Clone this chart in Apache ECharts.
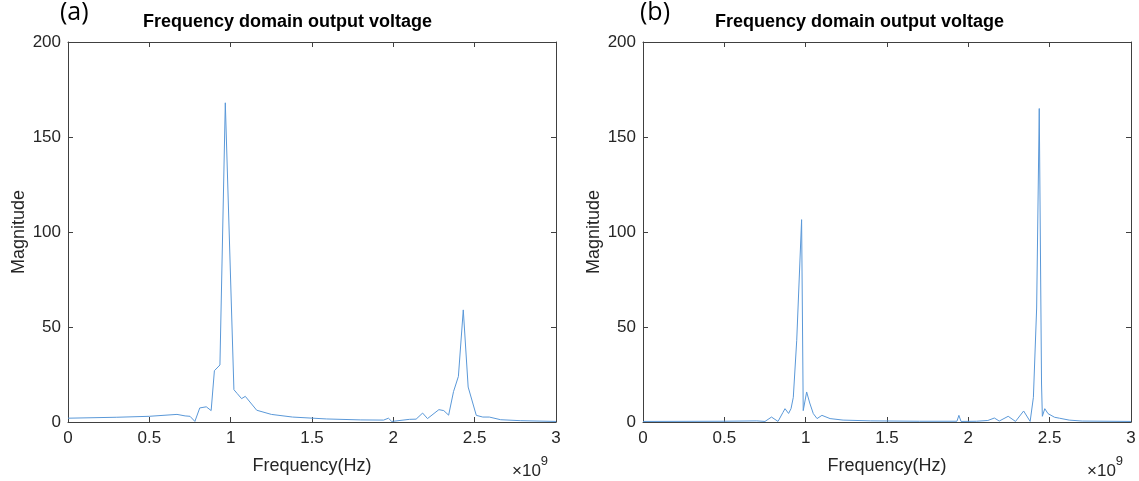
<!DOCTYPE html>
<html>
<head>
<meta charset="utf-8">
<script src="https://cdn.jsdelivr.net/npm/echarts@6/dist/echarts.min.js"></script>
<style>
  html, body { margin: 0; padding: 0; background: #fff; }
  #chart { width: 1139px; height: 481px; }
</style>
</head>
<body>
<div id="chart"></div>
<script>
// 频率单位 ×10^9 Hz
var freqA = [0, 0.3, 0.5, 0.67, 0.72, 0.75, 0.78, 0.81, 0.85, 0.88, 0.90, 0.934, 0.967, 1.02, 1.04, 1.067, 1.09, 1.10, 1.16, 1.25, 1.38, 1.59, 1.80, 1.94, 1.97, 1.99, 2.00, 2.10, 2.14, 2.18, 2.21, 2.28, 2.31, 2.34, 2.37, 2.40, 2.43, 2.46, 2.51, 2.55, 2.59, 2.66, 2.78, 3.0];
var magA  = [2.0, 2.5, 3.0, 4.0, 3.2, 3.0, 0.3, 7.4, 8.0, 6.0, 27, 30, 168, 17, 15, 12.3, 13.5, 13, 6.2, 4, 2.6, 1.6, 1.1, 1.0, 2.0, 0.3, 1.2, 1.4, 1.5, 4.7, 1.8, 6.5, 6, 3.6, 16, 24, 59, 18.4, 3.5, 2.6, 2.6, 1.2, 0.7, 0.3];

var freqB = [0, 0.5, 0.70, 0.75, 0.79, 0.83, 0.86, 0.873, 0.895, 0.91, 0.924, 0.945, 0.975, 0.985, 1.006, 1.025, 1.047, 1.07, 1.10, 1.15, 1.23, 1.4, 1.7, 1.93, 1.942, 1.955, 2.05, 2.12, 2.16, 2.19, 2.245, 2.29, 2.34, 2.38, 2.40, 2.42, 2.436, 2.45, 2.455, 2.47, 2.49, 2.53, 2.56, 2.62, 2.70, 3.0];
var magB  = [0.3, 0.4, 0.6, 0.3, 2.6, 0.3, 5, 7, 4.5, 7, 13, 43, 106.5, 6, 15.8, 10, 4.4, 1.8, 3.5, 1.8, 1, 0.6, 0.4, 0.4, 3.5, 0.3, 0.4, 0.8, 2.1, 0.5, 3, 0.3, 5.8, 0.3, 13, 60, 165, 20, 3, 7, 4.4, 2.5, 2, 1, 0.5, 0.3];

var xTicks = [0, 0.5, 1, 1.5, 2, 2.5, 3];
var yTicks = [0, 50, 100, 150, 200];

var chart = echarts.init(document.getElementById('chart'));

var axisColor = '#404040';
var labelStyle = { color: '#262626', fontSize: 17, fontFamily: 'Liberation Sans' };
var nameStyle = { color: '#262626', fontSize: 18, fontFamily: 'Liberation Sans' };

function pair(f, m) {
    var out = [];
    for (var i = 0; i < f.length; i++) {
        out.push([f[i], m[i]]);
    }
    return out;
}

function xAxisOf(gi, pos, showLabel) {
    return {
        type: 'value', gridIndex: gi, position: pos,
        min: xTicks[0], max: xTicks[xTicks.length - 1], interval: 0.5,
        axisLine: { show: true, onZero: false, lineStyle: { color: axisColor, width: 1 } },
        axisTick: { show: true, inside: true, length: 5, lineStyle: { color: axisColor } },
        axisLabel: { show: showLabel, margin: 8, textStyle: labelStyle },
        splitLine: { show: false },
        name: showLabel ? 'Frequency(Hz)' : '',
        nameLocation: 'middle', nameGap: 35,
        nameTextStyle: nameStyle
    };
}

function yAxisOf(gi, pos, showLabel) {
    return {
        type: 'value', gridIndex: gi, position: pos,
        min: yTicks[0], max: yTicks[yTicks.length - 1], interval: 50,
        axisLine: { show: true, onZero: false, lineStyle: { color: axisColor, width: 1 } },
        axisTick: { show: true, inside: true, length: 5, lineStyle: { color: axisColor } },
        axisLabel: { show: showLabel, margin: 7, textStyle: labelStyle },
        splitLine: { show: false },
        name: showLabel ? 'Magnitude' : '',
        nameLocation: 'middle', nameGap: 40, nameRotate: 90,
        nameTextStyle: nameStyle
    };
}

var titleStyle = { color: '#000', fontSize: 18, fontWeight: 'bold', fontFamily: 'Liberation Sans' };
var panelStyle = { color: '#000', fontSize: 25, fontWeight: 'normal', fontFamily: 'Open Sans' };

var expRich = {
    a: { fontSize: 17, fontFamily: 'Liberation Sans', fill: '#262626', padding: [8, 0, 0, 0] },
    b: { fontSize: 13, fontFamily: 'Liberation Sans', fill: '#262626', verticalAlign: 'top', padding: [0, 0, 8, 0] }
};

var option = {
    backgroundColor: '#fff',
    animation: false,
    title: [
        { text: 'Frequency domain output voltage', left: 143, top: 13, textStyle: titleStyle, padding: 0 },
        { text: 'Frequency domain output voltage', left: 715, top: 13, textStyle: titleStyle, padding: 0 },
        { text: '(a)', left: 60, top: 0, textStyle: panelStyle, padding: 0 },
        { text: '(b)', left: 640, top: 0, textStyle: panelStyle, padding: 0 }
    ],
    grid: [
        { left: 68, right: 583, top: 42, bottom: 59 },
        { left: 643, right: 8, top: 42, bottom: 59 }
    ],
    xAxis: [
        xAxisOf(0, 'bottom', true), xAxisOf(0, 'top', false),
        xAxisOf(1, 'bottom', true), xAxisOf(1, 'top', false)
    ],
    yAxis: [
        yAxisOf(0, 'left', true), yAxisOf(0, 'right', false),
        yAxisOf(1, 'left', true), yAxisOf(1, 'right', false)
    ],
    graphic: [
        { type: 'text', left: 512, top: 455, style: { text: '{a|×10}{b|9}', rich: expRich } },
        { type: 'text', left: 1087, top: 455, style: { text: '{a|×10}{b|9}', rich: expRich } }
    ],
    series: [
        {
            type: 'line', xAxisIndex: 0, yAxisIndex: 0,
            data: pair(freqA, magA),
            showSymbol: false,
            lineStyle: { color: '#5a98d8', width: 1 }
        },
        {
            type: 'line', xAxisIndex: 2, yAxisIndex: 2,
            data: pair(freqB, magB),
            showSymbol: false,
            lineStyle: { color: '#5a98d8', width: 1 }
        }
    ]
};

chart.setOption(option);
</script>
</body>
</html>
